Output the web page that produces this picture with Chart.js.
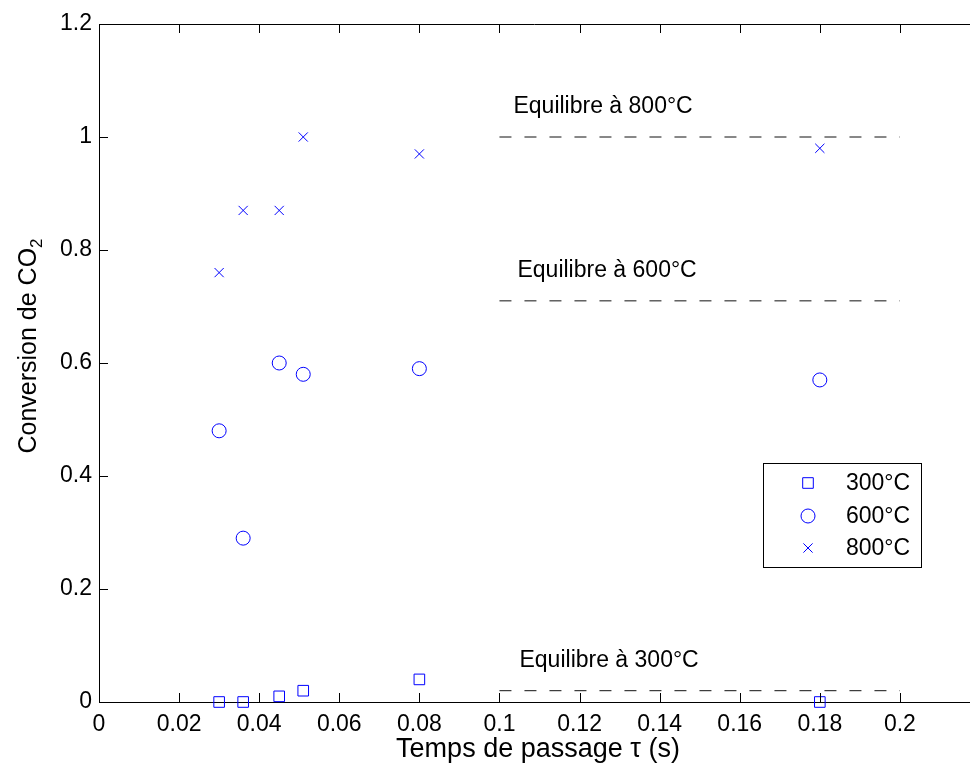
<!DOCTYPE html>
<html>
<head>
<meta charset="utf-8">
<title>Conversion de CO2</title>
<script src="https://cdn.jsdelivr.net/npm/chart.js@4.4.1/dist/chart.umd.min.js"></script>
<style>
	html, body { margin: 0; padding: 0; background: #fff; overflow: hidden; }
	#chart { display: block; }
</style>
</head>
<body>
<canvas id="chart" width="970" height="765"></canvas>
<script>
// Temps de passage (s)
const tau = [0.03, 0.036, 0.045, 0.051, 0.08, 0.18];
// Conversion de CO2 per temperature
const conv300 = [0, 0, 0.01, 0.02, 0.04, 0];
const conv600 = [0.48, 0.29, 0.60, 0.58, 0.59, 0.57];
const conv800 = [0.76, 0.87, 0.87, 1.00, 0.97, 0.98];
const seriesLabels = ['300°C', '600°C', '800°C'];

// Equilibrium lines
const eqValues = [0.02, 0.71, 1.0];
const eqStart = 0.1, eqEnd = 0.2;
const eqLabels = ['Equilibre à 300°C', 'Equilibre à 600°C', 'Equilibre à 800°C'];
const eqLabelX = [0.105, 0.1045, 0.1035];

// Axes
const xTicks = [0, 0.02, 0.04, 0.06, 0.08, 0.1, 0.12, 0.14, 0.16, 0.18, 0.2];
const yTicks = [0, 0.2, 0.4, 0.6, 0.8, 1, 1.2];

const FONT = "'Liberation Sans', Arial, Helvetica, sans-serif";
const BLUE = '#0000ff';
const fmt = v => String(+(+v).toFixed(3));

const pts = ys => tau.map((x, i) => ({ x, y: ys[i] }));
const markers = [
	{ pointStyle: 'rect', radius: 7.5 },
	{ pointStyle: 'circle', radius: 7 },
	{ pointStyle: 'crossRot', radius: 6.5 }
];

const scatterSets = [conv300, conv600, conv800].map((ys, i) => ({
	type: 'scatter',
	label: seriesLabels[i],
	data: pts(ys),
	showLine: false,
	pointStyle: markers[i].pointStyle,
	pointRadius: markers[i].radius,
	borderColor: BLUE,
	backgroundColor: 'transparent',
	pointBorderWidth: 1,
	clip: false
}));

const eqSets = eqValues.map(v => ({
	type: 'line',
	label: 'eq',
	data: [{ x: eqStart, y: v }, { x: eqEnd, y: v }],
	borderColor: '#111',
	borderWidth: 1,
	borderDash: [12, 13],
	pointRadius: 0,
	clip: false
}));

// inward ticks, top frame line, titles, annotations, legend box
const matlabLook = {
	id: 'matlabLook',
	afterDraw(chart) {
		const { ctx, chartArea: a, scales: { x, y } } = chart;
		ctx.save();
		ctx.strokeStyle = '#000';
		ctx.lineWidth = 1;
		ctx.beginPath();
		ctx.moveTo(a.left, a.top + 0.5); ctx.lineTo(a.right, a.top + 0.5);
		xTicks.forEach(t => {
			const px = Math.round(x.getPixelForValue(t)) + 0.5;
			ctx.moveTo(px, a.bottom); ctx.lineTo(px, a.bottom - 9);
			ctx.moveTo(px, a.top); ctx.lineTo(px, a.top + 9);
		});
		yTicks.forEach(t => {
			const py = Math.round(y.getPixelForValue(t)) + 0.5;
			ctx.moveTo(a.left, py); ctx.lineTo(a.left + 9, py);
		});
		ctx.stroke();

		// equilibrium labels
		ctx.fillStyle = '#000';
		ctx.font = '23px ' + FONT;
		ctx.textAlign = 'left';
		ctx.textBaseline = 'alphabetic';
		eqLabels.forEach((t, i) => {
			ctx.fillText(t, x.getPixelForValue(eqLabelX[i]), y.getPixelForValue(eqValues[i]) - 24);
		});

		// x title
		ctx.font = '27px ' + FONT;
		ctx.textAlign = 'center';
		ctx.textBaseline = 'middle';
		ctx.fillText('Temps de passage \u03c4 (s)', 538, 750);

		// y title with subscript
		ctx.save();
		ctx.translate(36, 346);
		ctx.rotate(-Math.PI / 2);
		ctx.font = '25px ' + FONT;
		const main = 'Conversion de CO';
		const w1 = ctx.measureText(main).width;
		ctx.font = '17px ' + FONT;
		const w2 = ctx.measureText('2').width;
		const start = -(w1 + w2) / 2;
		ctx.textAlign = 'left';
		ctx.textBaseline = 'alphabetic';
		ctx.font = '25px ' + FONT;
		ctx.fillText(main, start, 0);
		ctx.font = '17px ' + FONT;
		ctx.fillText('2', start + w1, 6);
		ctx.restore();

		// legend
		const L = { left: 763, top: 463, width: 158, height: 104 };
		ctx.fillStyle = '#fff';
		ctx.fillRect(L.left, L.top, L.width, L.height);
		ctx.strokeStyle = '#000';
		ctx.strokeRect(L.left + 0.5, L.top + 0.5, L.width, L.height);
		const rows = [483, 516, 548];
		chart.data.datasets.filter(d => d.type === 'scatter').forEach((d, i) => {
			ctx.strokeStyle = BLUE;
			ctx.fillStyle = 'rgba(0,0,0,0)';
			ctx.lineWidth = 1;
			Chart.helpers.drawPoint(ctx, { pointStyle: d.pointStyle, radius: d.pointRadius, rotation: 0, borderWidth: 1 }, 808, rows[i]);
			ctx.fillStyle = '#000';
			ctx.font = '23px ' + FONT;
			ctx.textAlign = 'left';
			ctx.textBaseline = 'middle';
			ctx.fillText(d.label, 846, rows[i] + 1);
		});
		ctx.restore();
	}
};

new Chart(document.getElementById('chart').getContext('2d'), {
	data: { datasets: [...eqSets, ...scatterSets] },
	options: {
		responsive: false,
		animation: false,
		events: [],
		layout: { autoPadding: false, padding: { top: 24, left: 0, right: 0, bottom: 0 } },
		plugins: { legend: { display: false }, tooltip: { enabled: false } },
		scales: {
			x: {
				type: 'linear',
				bounds: 'data',
				min: 0,
				max: 0.2175,
				afterFit: s => { s.height = 63; s.paddingLeft = 0; s.paddingRight = 0; },
				grid: { drawOnChartArea: false, drawTicks: false },
				border: { display: true, color: '#000', width: 1 },
				ticks: {
					stepSize: 0.02,
					includeBounds: false,
					padding: 9,
					color: '#000',
					font: { family: FONT, size: 23 },
					maxRotation: 0,
					autoSkip: false,
					callback: v => fmt(v)
				}
			},
			y: {
				type: 'linear',
				min: 0,
				max: 1.2,
				afterFit: s => { s.width = 99; s.paddingTop = 0; s.paddingBottom = 0; },
				grid: { drawOnChartArea: false, drawTicks: false },
				border: { display: true, color: '#000', width: 1 },
				ticks: {
					stepSize: 0.2,
					padding: 7,
					color: '#000',
					font: { family: FONT, size: 23 },
					callback: v => fmt(v)
				}
			}
		}
	},
	plugins: [matlabLook]
});
</script>
</body>
</html>
